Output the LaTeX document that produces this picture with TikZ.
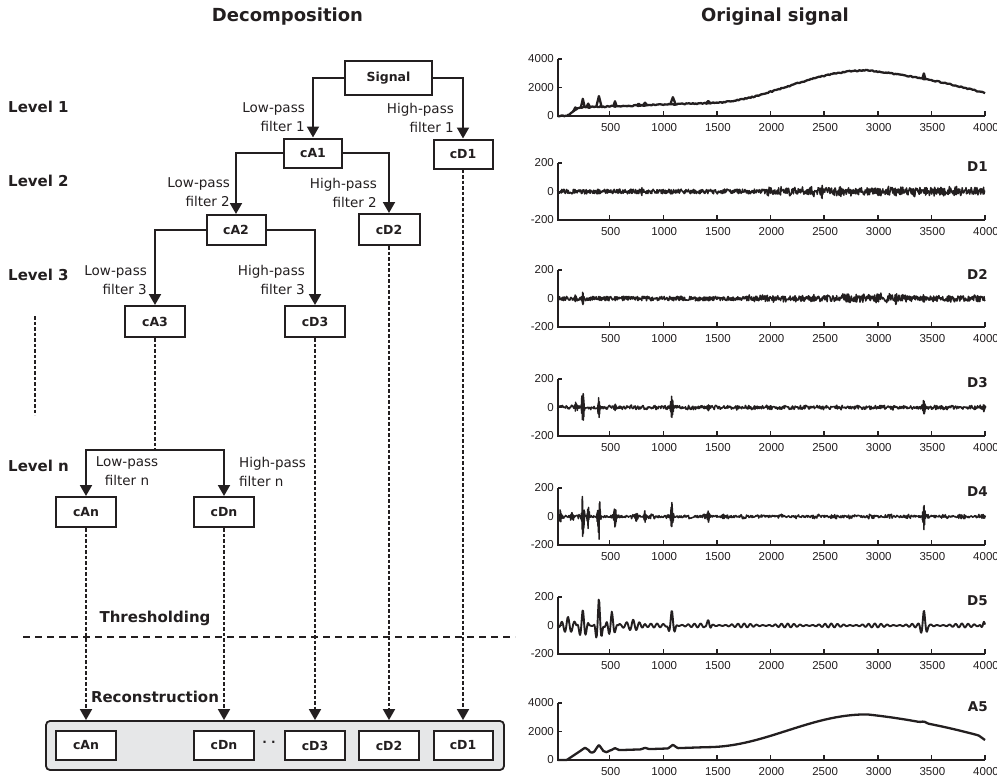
\documentclass[tikz,border=0pt]{standalone}
\usepackage{fontspec}
\setmainfont{DejaVu Sans}
\newfontfamily\axisfont{Liberation Sans}
\usetikzlibrary{arrows.meta}
\definecolor{ink}{HTML}{231F20}
\definecolor{panelgrey}{HTML}{E6E7E8}

% axes frame of one signal panel: #1 top edge, #2 name, #3/#4/#5 top, middle, bottom values
\newcommand{\sigpanel}[5]{%
  \pgfmathsetmacro{\pnlbot}{#1+57}%
  \pgfmathsetmacro{\pnlmid}{#1+28.5}%
  \draw[axisline] (558,#1) -- (558,\pnlbot) -- (985,\pnlbot);
  \draw[axisline] (558,#1) -- ++(4,0) (558,\pnlmid) -- ++(4,0);
  \foreach \v in {500,1000,...,4000}{
    \draw[axisline] ({556+0.10725*\v},\pnlbot) -- ++(0,-5);
    \node[ticklabel] (#2-x\v) at ({557+0.10725*\v},\pnlbot+11.5) {\v};
  }
  \node[ticklabel,anchor=east] (#2-ytop) at (554,#1) {#3};
  \node[ticklabel,anchor=east] (#2-ymid) at (554,\pnlmid) {#4};
  \node[ticklabel,anchor=east] (#2-ybot) at (554,\pnlbot) {#5};
}

% noisy bursts: list of centre/amplitude/half-width triples
\newcommand{\bursts}[1]{%
  \foreach \bc/\ba/\bw in {#1}{
    \pgfmathsetmacro{\blo}{\bc-\bw}%
    \pgfmathsetmacro{\bhi}{\bc+\bw}%
    \draw[trace] plot[domain=\blo:\bhi, samples=30] (\x, {rand*\ba*(1-abs(\x-\bc)/\bw)});
  }%
}

\begin{document}
\begin{tikzpicture}[x=1pt,y=-1pt,
  color=ink,
  declare function={
    osc(\ua,\ub)=sin(mod(\ua,\ub)/\ub*360);
    wig(\ua)=14*osc(\ua,58)*(0.6+0.4*osc(\ua,410));
    brst(\ua,\ub,\uc,\ud)=max(0,1-abs(\ua-\ub)/\uc)*osc(\ua-\ub+\ud/4,\ud);
    trend(\ua)=5*min(max(\ua-100,0),120)
      + min(max(\ua-220,0),1180)/1180*300
      + 1150*(1-cos(min(max(\ua-1400,0),1500)/1500*180))
      - 1600*(0.55*max(\ua-2900,0)/1100
              + 0.45*(max(\ua-2900,0)/1100)*(max(\ua-2900,0)/1100));
  },
  box/.style={draw, line width=2pt, fill=white, inner sep=0pt,
    minimum width=59pt, minimum height=30pt,
    font=\bfseries\fontsize{12.5}{14}\selectfont},
  flabel/.style={inner sep=0pt, font=\fontsize{13.5}{19}\selectfont},
  level/.style={anchor=west, inner sep=0pt, font=\bfseries\fontsize{15}{18}\selectfont},
  heading/.style={inner sep=0pt, font=\bfseries\fontsize{18}{21}\selectfont},
  stage/.style={inner sep=0pt, font=\bfseries\fontsize{15}{18}\selectfont},
  conn/.style={line width=2pt, -{Triangle[width=12pt,length=11pt]}},
  dconn/.style={line width=1.7pt, dash pattern=on 3.5pt off 2pt,
    -{Triangle[width=12pt,length=11pt]}},
  dline/.style={line width=1.7pt, dash pattern=on 3.5pt off 2pt},
  thresh/.style={line width=2.2pt, dash pattern=on 7pt off 5pt},
  axisline/.style={line width=1.5pt},
  ticklabel/.style={inner sep=0pt, font=\axisfont\fontsize{11.5}{13}\selectfont},
  trace/.style={line width=1.5pt, line join=round},
  smoothtrace/.style={line width=2.3pt, line join=round},
  dlabel/.style={anchor=east, inner sep=0pt, font=\bfseries\fontsize{13.5}{16}\selectfont}
]
\useasboundingbox (0,0) rectangle (997,776);
\pgfmathsetseed{7}

% ---------- headings ----------
\node[heading] (hdec) at (287.5,17) {Decomposition};
\node[heading] (horig) at (775,17) {Original signal};

% ---------- level labels ----------
\node[level] (lv1) at (8,107) {Level 1};
\node[level] (lv2) at (8,181) {Level 2};
\node[level] (lv3) at (8,275) {Level 3};
\node[level] (lvn) at (8,466) {Level n};
\coordinate (vd-t) at (35,316);
\coordinate (vd-b) at (35,415);
\draw[dline] (vd-t) -- (vd-b);

% ---------- decomposition tree ----------
\node[box, minimum width=87pt, minimum height=34pt] (sig) at (388.5,78) {Signal};
\node[box, minimum width=58pt, minimum height=29pt] (cA1) at (313,153) {cA1};
\node[box, minimum height=29pt] (cD1) at (463,154) {cD1};
\node[box] (cA2) at (236,230) {cA2};
\node[box, minimum width=61pt, minimum height=31pt] (cD2) at (389,229.5) {cD2};
\node[box, minimum width=60pt, minimum height=31pt] (cA3) at (155,321.5) {cA3};
\node[box, minimum width=60pt, minimum height=31pt] (cD3) at (315,321.5) {cD3};
\node[box, minimum width=60pt] (cAn) at (86,512) {cAn};
\node[box, minimum width=60pt] (cDn) at (224,512) {cDn};

\draw[conn] (sig.west) -| (cA1.north);
\draw[conn] (sig.east) -| (cD1.north);
\draw[conn] (cA1.west) -| (cA2.north);
\draw[conn] (cA1.east) -| (cD2.north);
\draw[conn] (cA2.west) -| (cA3.north);
\draw[conn] (cA2.east) -| (cD3.north);
\coordinate (split) at (155,450);
\draw[dline] (cA3.south) -- (split);
\draw[conn] (split) -| (cAn.north);
\draw[conn] (split) -| (cDn.north);

\node[flabel, align=right, anchor=east] (lp1) at (305,117.5) {Low-pass\\filter 1};
\node[flabel, align=right, anchor=east] (hp1) at (454,117.5) {High-pass\\filter 1};
\node[flabel, align=right, anchor=east] (lp2) at (230,192.5) {Low-pass\\filter 2};
\node[flabel, align=right, anchor=east] (hp2) at (377,192.5) {High-pass\\filter 2};
\node[flabel, align=right, anchor=east] (lp3) at (147,280) {Low-pass\\filter 3};
\node[flabel, align=right, anchor=east] (hp3) at (305,280) {High-pass\\filter 3};
\node[flabel, align=center] (lpn) at (127,471.5) {Low-pass\\filter n};
\node[flabel, align=left, anchor=west] (hpn) at (239,471.5) {High-pass\\filter n};

% ---------- thresholding and reconstruction ----------
\node[stage] (thr) at (155,618) {Thresholding};
\coordinate (th-l) at (23,637);
\coordinate (th-r) at (515,637);
\draw[thresh] (th-l) -- (th-r);
\node[stage] (rec) at (155,697) {Reconstruction};

\node[draw, line width=1.8pt, fill=panelgrey, rounded corners=4pt, inner sep=0pt,
  minimum width=458pt, minimum height=49pt] (panel) at (275,745.5) {};
\node[box, minimum width=60pt, minimum height=29pt] (rAn) at (86,745.5) {cAn};
\node[box, minimum width=60pt, minimum height=29pt] (rDn) at (224,745.5) {cDn};
\node[box, minimum width=60pt, minimum height=29pt] (rD3) at (315,745.5) {cD3};
\node[box, minimum width=60pt, minimum height=29pt] (rD2) at (389,745.5) {cD2};
\node[box, minimum width=59pt, minimum height=29pt] (rD1) at (463,745.5) {cD1};
\node[inner sep=0pt, font=\bfseries\fontsize{12}{14}\selectfont] (gap) at (269,744) {· ·};

\draw[dconn] (cAn.south) -- (cAn.south |- panel.north);
\draw[dconn] (cDn.south) -- (cDn.south |- panel.north);
\draw[dconn] (cD3.south) -- (cD3.south |- panel.north);
\draw[dconn] (cD2.south) -- (cD2.south |- panel.north);
\draw[dconn] (cD1.south) -- (cD1.south |- panel.north);

% ---------- signal panels ----------
\sigpanel{59}{ps}{4000}{2000}{0}
\sigpanel{163}{p1}{200}{0}{-200}
\sigpanel{270}{p2}{200}{0}{-200}
\sigpanel{379}{p3}{200}{0}{-200}
\sigpanel{488}{p4}{200}{0}{-200}
\sigpanel{597}{p5}{200}{0}{-200}
\sigpanel{703}{pa}{4000}{2000}{0}

\node[dlabel] (nD1) at (988,167) {D1};
\node[dlabel] (nD2) at (988,274) {D2};
\node[dlabel] (nD3) at (988,383) {D3};
\node[dlabel] (nD4) at (988,492) {D4};
\node[dlabel] (nD5) at (988,601) {D5};
\node[dlabel] (nA5) at (988,707) {A5};

% original signal: smooth trend plus narrow peaks
\begin{scope}[shift={(556,116)}, xscale=0.10725, yscale=-0.01425]
  \draw[smoothtrace] plot[domain=15:4000, samples=320] (\x, {trend(\x) + 40*rand});
  \foreach \bc/\ba/\bw in {180/200/20, 250/600/18, 300/250/18, 400/750/25,
      550/350/15, 770/120/20, 830/180/20, 1090/500/25, 1420/150/20, 3430/380/15}{
    \pgfmathsetmacro{\blo}{\bc-\bw}%
    \pgfmathsetmacro{\bhi}{\bc+\bw}%
    \draw[smoothtrace] plot[domain=\blo:\bhi, samples=9]
      (\x, {trend(\x) + \ba*(1-abs(\x-\bc)/\bw)});
  }
\end{scope}

% D1
\begin{scope}[shift={(556,191.5)}, xscale=0.10725, yscale=-0.1425]
  \draw[trace] plot[domain=15:4000, samples=900] (\x, {rand*(17 + (\x>1950)*(12+10*rand))});
  \bursts{800/32/15, 1990/40/20, 2480/55/18, 2650/55/25, 3000/35/30, 3450/35/25}
\end{scope}

% D2
\begin{scope}[shift={(556,298.5)}, xscale=0.10725, yscale=-0.1425]
  \draw[trace] plot[domain=15:4000, samples=900] (\x, {rand*(16 + (\x>1800)*(5+6*rand)
      + (\x>2550)*(\x<3250)*(8+8*rand))});
  \bursts{180/30/15, 250/68/14, 2400/35/25, 2720/36/30, 3170/50/20, 3430/36/20}
\end{scope}

% D3
\begin{scope}[shift={(556,407.5)}, xscale=0.10725, yscale=-0.1425]
  \draw[trace] plot[domain=15:4000, samples=800] (\x, {rand*(13 + 5*rand)});
  \bursts{190/55/22, 250/165/18, 400/95/16, 550/35/16, 1080/90/20,
    1420/28/18, 3430/80/16, 3990/32/18}
\end{scope}

% D4
\begin{scope}[shift={(556,516.5)}, xscale=0.10725, yscale=-0.1425]
  \draw[trace] plot[domain=15:4000, samples=700] (\x, {rand*(8 + 8*(osc(\x,170)>0.3))});
  \bursts{40/55/20, 150/55/25, 250/170/22, 300/95/18, 400/180/22, 550/90/18,
    750/45/20, 830/45/20, 1080/105/20, 1420/45/20, 1560/22/20, 3430/100/18,
    3990/20/15}
\end{scope}

% D5
\begin{scope}[shift={(556,625.5)}, xscale=0.10725, yscale=-0.1425]
  \draw[smoothtrace, line width=1.9pt]
    plot[domain=15:880, samples=150] (\x, {wig(\x)
      + 70*brst(\x,110,110,60) + 110*brst(\x,250,60,55)
      + 200*brst(\x,400,45,55) + 100*brst(\x,520,60,55)
      + 40*brst(\x,720,120,60)})
    -- plot[domain=880:1280, samples=70] (\x, {wig(\x) + 115*brst(\x,1080,45,60)})
    -- plot[domain=1280:3300, samples=300] (\x, {wig(\x) + 40*brst(\x,1420,35,60)})
    -- plot[domain=3300:3560, samples=50] (\x, {wig(\x) + 100*brst(\x,3430,45,60)})
    -- plot[domain=3560:4000, samples=80] (\x, {wig(\x) + 30*brst(\x,3990,40,50)});
\end{scope}

% A5
\begin{scope}[shift={(556,760)}, xscale=0.10725, yscale=-0.01425]
  \draw[smoothtrace]
    plot[domain=15:1300, samples=140] (\x, {trend(\x)
      + 250*max(0,1-abs(\x-270)/50) - 120*max(0,1-abs(\x-335)/35)
      + 420*max(0,1-abs(\x-400)/40) - 120*max(0,1-abs(\x-470)/35)
      + 150*max(0,1-abs(\x-550)/40) + 100*max(0,1-abs(\x-830)/40)
      + 250*max(0,1-abs(\x-1090)/45)})
    -- plot[domain=1300:4000, samples=140] (\x, {trend(\x)
      + 100*max(0,1-abs(\x-3430)/40) - 200*max(0,1-abs(\x-4000)/60)});
\end{scope}
\end{tikzpicture}
\end{document}
